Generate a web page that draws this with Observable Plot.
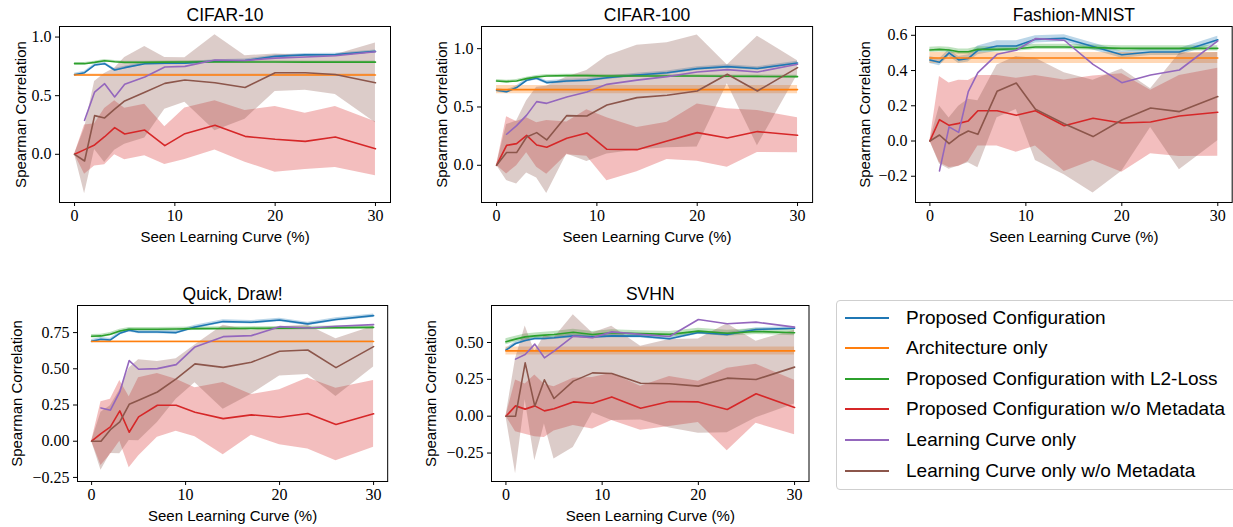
<!DOCTYPE html>
<html><head><meta charset="utf-8">
<script src="https://cdn.jsdelivr.net/npm/d3@7"></script>
<script src="https://cdn.jsdelivr.net/npm/@observablehq/plot@0.6"></script>
<style>
html,body{margin:0;padding:0;background:#fff;}
body{width:1233px;height:527px;overflow:hidden;position:relative;}
.panel{position:absolute;}
#legend{position:absolute;left:836px;top:300px;width:420px;height:190px;border:1px solid #cfcfcf;border-radius:4px;box-sizing:border-box;background:#fff;font-family:"Liberation Sans",sans-serif;font-size:19px;color:#000;}
.lrow{position:absolute;left:0;height:30px;}
.lrow svg{position:absolute;left:7px;top:0;}
.lrow span{position:absolute;left:69px;top:50%;transform:translateY(-50%);white-space:nowrap;}
</style></head><body>
<div id="legend"></div>
<script>
// ---------- shared ----------
const X = [0, 1, 2, 3, 4, 5, 7, 9, 11, 14, 17, 20, 23, 26, 30];
const SERIES = ["Proposed Configuration", "Architecture only", "Proposed Configuration with L2-Loss",
  "Proposed Configuration w/o Metadata", "Learning Curve only", "Learning Curve only w/o Metadata"];
const COLORS = ["#1f77b4", "#ff7f0e", "#2ca02c", "#d62728", "#9467bd", "#8c564b"];
const TITLES = ["CIFAR-10", "CIFAR-100", "Fashion-MNIST", "Quick, Draw!", "SVHN"];
const XLABEL = "Seen Learning Curve (%)";
const YLABEL = "Spearman Correlation";
const X_TICKS = [0, 10, 20, 30];

// ---------- CIFAR-10 ----------
const c10_pc    = [0.679,0.696,0.761,0.773,0.719,0.739,0.773,0.776,0.778,0.795,0.800,0.835,0.848,0.850,0.878];
const c10_pc_sd = [0.012,0.012,0.012,0.012,0.012,0.012,0.012,0.012,0.012,0.012,0.012,0.012,0.012,0.012,0.012];
const c10_ar    = [0.676,0.676,0.676,0.676,0.676,0.676,0.676,0.676,0.676,0.676,0.676,0.676,0.676,0.676,0.676];
const c10_ar_sd = [0.008,0.008,0.008,0.008,0.008,0.008,0.008,0.008,0.008,0.008,0.008,0.008,0.008,0.008,0.008];
const c10_l2    = [0.773,0.773,0.784,0.798,0.790,0.784,0.784,0.786,0.787,0.787,0.787,0.787,0.786,0.786,0.786];
const c10_l2_sd = [0.010,0.010,0.010,0.010,0.010,0.010,0.010,0.010,0.010,0.010,0.010,0.010,0.010,0.010,0.010];
const c10_nm    = [0,0.040,0.080,0.150,0.227,0.173,0.207,0.074,0.176,0.247,0.153,0.128,0.110,0.148,0.048];
const c10_nm_sd = [0,0.21,0.18,0.24,0.23,0.22,0.22,0.16,0.22,0.21,0.22,0.28,0.24,0.26,0.23];
const c10_lc    = [null,0.290,0.531,0.602,0.489,0.597,0.659,0.744,0.750,0.804,0.800,0.820,0.830,0.840,0.875];
const c10_lcnm    = [0,-0.057,0.330,0.310,0.385,0.455,0.530,0.605,0.634,0.610,0.570,0.696,0.696,0.680,0.610];
const c10_lcnm_sd = [0,0.28,0.29,0.38,0.35,0.37,0.39,0.22,0.19,0.41,0.27,0.16,0.15,0.17,0.34];
const c10_yticks = [0, 0.5, 1.0];
const c10_ylabels = ["0.0", "0.5", "1.0"];

// ---------- CIFAR-100 ----------
const c100_pc    = [0.643,0.631,0.666,0.729,0.746,0.709,0.723,0.729,0.751,0.774,0.794,0.829,0.846,0.830,0.877];
const c100_pc_sd = [0.015,0.015,0.015,0.015,0.015,0.015,0.015,0.015,0.015,0.015,0.015,0.015,0.015,0.015,0.015];
const c100_ar    = [0.649,0.649,0.649,0.649,0.649,0.649,0.649,0.649,0.649,0.649,0.649,0.649,0.649,0.649,0.649];
const c100_ar_sd = [0.035,0.035,0.035,0.035,0.035,0.035,0.035,0.035,0.035,0.035,0.035,0.035,0.035,0.035,0.035];
const c100_l2    = [0.723,0.717,0.723,0.743,0.757,0.766,0.769,0.769,0.766,0.766,0.765,0.765,0.763,0.762,0.760];
const c100_l2_sd = [0.012,0.012,0.012,0.012,0.012,0.012,0.012,0.012,0.012,0.012,0.012,0.012,0.012,0.012,0.012];
const c100_nm    = [0,0.171,0.186,0.257,0.174,0.154,0.231,0.277,0.137,0.134,0.209,0.280,0.234,0.289,0.257];
const c100_nm_sd = [0,0.245,0.19,0.15,0.19,0.23,0.14,0.20,0.27,0.19,0.16,0.245,0.25,0.18,0.15];
const c100_lc    = [null,0.266,0.340,0.430,0.546,0.531,0.586,0.629,0.694,0.730,0.760,0.800,0.820,0.800,0.866];
const c100_lcnm    = [0,0.109,0.109,0.243,0.280,0.217,0.426,0.423,0.517,0.580,0.600,0.637,0.780,0.637,0.837];
const c100_lcnm_sd = [0,0.24,0.27,0.31,0.39,0.46,0.33,0.39,0.42,0.45,0.45,0.48,0.08,0.47,0.06];
const c100_yticks = [0, 0.5, 1.0];
const c100_ylabels = ["0.0", "0.5", "1.0"];

// ---------- Fashion-MNIST ----------
const fm_pc    = [0.460,0.447,0.500,0.460,0.469,0.515,0.539,0.539,0.577,0.583,0.536,0.490,0.505,0.505,0.575];
const fm_pc_sd = [0.02,0.02,0.02,0.02,0.02,0.025,0.03,0.03,0.02,0.02,0.02,0.02,0.02,0.02,0.02];
const fm_ar    = [0.471,0.471,0.471,0.471,0.471,0.471,0.471,0.471,0.471,0.471,0.471,0.471,0.471,0.471,0.471];
const fm_ar_sd = [0.031,0.031,0.031,0.031,0.031,0.031,0.031,0.031,0.031,0.031,0.031,0.031,0.031,0.031,0.031];
const fm_l2    = [0.517,0.520,0.517,0.507,0.507,0.520,0.520,0.524,0.534,0.534,0.530,0.526,0.526,0.526,0.526];
const fm_l2_sd = [0.015,0.015,0.015,0.015,0.015,0.015,0.015,0.015,0.015,0.015,0.015,0.015,0.015,0.015,0.015];
const fm_nm    = [0,0.121,0.089,0.100,0.114,0.172,0.172,0.146,0.172,0.087,0.129,0.102,0.108,0.142,0.163];
const fm_nm_sd = [0,0.245,0.24,0.245,0.23,0.20,0.20,0.21,0.20,0.26,0.24,0.28,0.18,0.23,0.25];
const fm_lc    = [null,-0.170,0.080,0.049,0.280,0.388,0.492,0.515,0.581,0.572,0.435,0.331,0.375,0.403,0.568];
const fm_lcnm    = [0,0.034,-0.015,0.028,0.057,0.038,0.282,0.329,0.180,0.098,0.025,0.119,0.187,0.167,0.252];
const fm_lcnm_sd = [0,0.165,0.145,0.17,0.18,0.19,0.15,0.15,0.29,0.29,0.32,0.29,0.11,0.33,0.25];
const fm_yticks = [-0.2, 0, 0.2, 0.4, 0.6];
const fm_ylabels = ["\u22120.2", "0.0", "0.2", "0.4", "0.6"];

// ---------- Quick, Draw! ----------
const qd_pc    = [0.690,0.704,0.699,0.745,0.766,0.754,0.754,0.750,0.789,0.826,0.821,0.837,0.810,0.840,0.867];
const qd_pc_sd = [0.012,0.012,0.012,0.012,0.012,0.012,0.012,0.012,0.012,0.012,0.012,0.012,0.012,0.012,0.012];
const qd_ar    = [0.688,0.688,0.688,0.688,0.688,0.688,0.688,0.688,0.688,0.688,0.688,0.688,0.688,0.688,0.688];
const qd_ar_sd = [0.005,0.005,0.005,0.005,0.005,0.005,0.005,0.005,0.005,0.005,0.005,0.005,0.005,0.005,0.005];
const qd_l2    = [0.725,0.727,0.738,0.761,0.773,0.773,0.773,0.775,0.777,0.778,0.779,0.780,0.782,0.784,0.786];
const qd_l2_sd = [0.012,0.012,0.012,0.012,0.012,0.012,0.012,0.012,0.012,0.012,0.012,0.012,0.012,0.012,0.012];
const qd_nm    = [0,0.053,0.099,0.209,0.062,0.168,0.248,0.248,0.200,0.156,0.182,0.166,0.191,0.115,0.189];
const qd_nm_sd = [0,0.22,0.19,0.21,0.245,0.27,0.22,0.18,0.17,0.25,0.14,0.19,0.245,0.25,0.23];
const qd_lc    = [null,0.230,0.214,0.340,0.557,0.497,0.501,0.529,0.651,0.722,0.729,0.791,0.782,0.794,0.805];
const qd_lcnm    = [0,0,0.080,0.133,0.255,0.283,0.340,0.430,0.534,0.510,0.545,0.621,0.630,0.508,0.653];
const qd_lcnm_sd = [0,0.20,0.165,0.22,0.25,0.28,0.21,0.14,0.13,0.29,0.22,0.17,0.17,0.20,0.14];
const qd_yticks = [-0.25, 0, 0.25, 0.5, 0.75];
const qd_ylabels = ["\u22120.25", "0.00", "0.25", "0.50", "0.75"];

// ---------- SVHN ----------
const sv_pc    = [0.448,0.493,0.514,0.527,0.527,0.532,0.545,0.538,0.545,0.543,0.525,0.568,0.554,0.588,0.597];
const sv_pc_sd = [0.012,0.012,0.012,0.012,0.012,0.012,0.012,0.012,0.012,0.012,0.012,0.012,0.012,0.012,0.012];
const sv_ar    = [0.443,0.443,0.443,0.443,0.443,0.443,0.443,0.443,0.443,0.443,0.443,0.443,0.443,0.443,0.443];
const sv_ar_sd = [0.027,0.027,0.027,0.027,0.027,0.027,0.027,0.027,0.027,0.027,0.027,0.027,0.027,0.027,0.027];
const sv_l2    = [0.505,0.523,0.538,0.545,0.550,0.554,0.570,0.554,0.566,0.560,0.555,0.577,0.563,0.575,0.566];
const sv_l2_sd = [0.02,0.02,0.02,0.02,0.02,0.02,0.02,0.02,0.02,0.02,0.02,0.02,0.02,0.02,0.02];
const sv_nm    = [0,0.070,0.048,0.070,0.036,0.050,0.097,0.088,0.131,0.054,0.100,0.097,0.045,0.152,0.059];
const sv_nm_sd = [0,0.175,0.17,0.21,0.18,0.15,0.16,0.175,0.16,0.15,0.17,0.14,0.28,0.20,0.185];
const sv_lc    = [null,0.387,0.419,0.489,0.396,0.441,0.543,0.532,0.572,0.555,0.541,0.656,0.627,0.638,0.604];
const sv_lcnm    = [0,0,0.362,0.068,0.247,0.120,0.238,0.294,0.290,0.224,0.220,0.204,0.258,0.249,0.333];
const sv_lcnm_sd = [0,0.39,0.25,0.37,0.30,0.41,0.45,0.27,0.32,0.25,0.30,0.32,0.37,0.26,0.25];
const sv_yticks = [-0.25, 0, 0.25, 0.5];
const sv_ylabels = ["\u22120.25", "0.00", "0.25", "0.50"];

// ---------- layout (frame boxes in page pixels) ----------
const panels = [
  {title: TITLES[0], means: [c10_pc, c10_ar, c10_l2, c10_nm, c10_lc, c10_lcnm],
   sds: [c10_pc_sd, c10_ar_sd, c10_l2_sd, c10_nm_sd, null, c10_lcnm_sd],
   yticks: c10_yticks, ylabels: c10_ylabels, ydom: [-0.411, 1.09], frame: [59, 25.5, 390, 201.5], ylabDx: -38},
  {title: TITLES[1], means: [c100_pc, c100_ar, c100_l2, c100_nm, c100_lc, c100_lcnm],
   sds: [c100_pc_sd, c100_ar_sd, c100_l2_sd, c100_nm_sd, null, c100_lcnm_sd],
   yticks: c100_yticks, ylabels: c100_ylabels, ydom: [-0.319, 1.19], frame: [480.6, 25.5, 811.7, 201.5], ylabDx: -39},
  {title: TITLES[2], means: [fm_pc, fm_ar, fm_l2, fm_nm, fm_lc, fm_lcnm],
   sds: [fm_pc_sd, fm_ar_sd, fm_l2_sd, fm_nm_sd, null, fm_lcnm_sd],
   yticks: fm_yticks, ylabels: fm_ylabels, ydom: [-0.349, 0.65], frame: [914.8, 25.5, 1231.5, 201.5], ylabDx: -50},
  {title: TITLES[3], means: [qd_pc, qd_ar, qd_l2, qd_nm, qd_lc, qd_lcnm],
   sds: [qd_pc_sd, qd_ar_sd, qd_l2_sd, qd_nm_sd, null, qd_lcnm_sd],
   yticks: qd_yticks, ylabels: qd_ylabels, ydom: [-0.278, 0.937], frame: [76.6, 305, 386.8, 481], ylabDx: -60},
  {title: TITLES[4], means: [sv_pc, sv_ar, sv_l2, sv_nm, sv_lc, sv_lcnm],
   sds: [sv_pc_sd, sv_ar_sd, sv_l2_sd, sv_nm_sd, null, sv_lcnm_sd],
   yticks: sv_yticks, ylabels: sv_ylabels, ydom: [-0.443, 0.751], frame: [490.9, 305, 808.4, 481], ylabDx: -60}
];

const ML = 75, MR = 12, MT = 35, MB = 52;
const SANS = "Liberation Sans, sans-serif";
const SERIF = "Liberation Serif, serif";

for (const p of panels) {
  const [fx0, fy0, fx1, fy1] = p.frame;
  const bands = [], lines = [];
  p.means.forEach((m, s) => {
    const rows = X.map((x, i) => ({x, y: m[i], lo: p.sds[s] && m[i] != null ? m[i] - p.sds[s][i] : null,
      hi: p.sds[s] && m[i] != null ? m[i] + p.sds[s][i] : null}));
    if (p.sds[s]) bands.push(Plot.areaY(rows, {x: "x", y1: "lo", y2: "hi", fill: COLORS[s], fillOpacity: 0.3}));
    lines.push(Plot.lineY(rows, {x: "x", y: "y", stroke: COLORS[s], strokeWidth: 1.6}));
  });
  const chart = Plot.plot({
    width: (fx1 - fx0) + ML + MR,
    height: (fy1 - fy0) + MT + MB,
    marginLeft: ML, marginRight: MR, marginTop: MT, marginBottom: MB,
    style: {background: "transparent", color: "#000", fontFamily: SERIF, fontSize: "16px", overflow: "visible"},
    x: {domain: [-1.5, 31.5]},
    y: {domain: p.ydom},
    marks: [
      ...bands,
      ...lines,
      Plot.frame({stroke: "#000", strokeWidth: 1}),
      Plot.axisX({ticks: X_TICKS, tickSize: 4, tickPadding: 3, label: null, tickFormat: d => String(d), fontFamily: SERIF, fontSize: 16}),
      Plot.axisY({ticks: p.yticks, tickSize: 4, tickPadding: 4, label: null, tickFormat: (d) => p.ylabels[p.yticks.indexOf(d)], fontFamily: SERIF, fontSize: 16}),
      Plot.text([p.title], {text: d => d, frameAnchor: "top", lineAnchor: "middle", textAnchor: "middle", dy: -11.5, fontFamily: SANS, fontSize: 17.5, fill: "#000"}),
      Plot.text([XLABEL], {text: d => d, frameAnchor: "bottom", lineAnchor: "middle", textAnchor: "middle", dy: 34.5, fontFamily: SANS, fontSize: 15, fill: "#000"}),
      Plot.text([YLABEL], {text: d => d, frameAnchor: "left", lineAnchor: "middle", textAnchor: "middle", dx: p.ylabDx, rotate: -90, fontFamily: SANS, fontSize: 15, fill: "#000"})
    ]
  });
  chart.classList.add("panel");
  chart.style.left = (fx0 - ML) + "px";
  chart.style.top = (fy0 - MT) + "px";
  document.body.appendChild(chart);
}

// ---------- legend ----------
const legend = document.getElementById("legend");
SERIES.forEach((name, i) => {
  const row = document.createElement("div");
  row.className = "lrow";
  row.style.top = (1.5 + i * 30.6) + "px";
  row.style.width = "418px";
  row.innerHTML = `<svg width="46" height="30"><line x1="1" x2="45" y1="15" y2="15" stroke="${COLORS[i]}" stroke-width="1.8"/></svg><span>${name}</span>`;
  legend.appendChild(row);
});
</script>
</body></html>
